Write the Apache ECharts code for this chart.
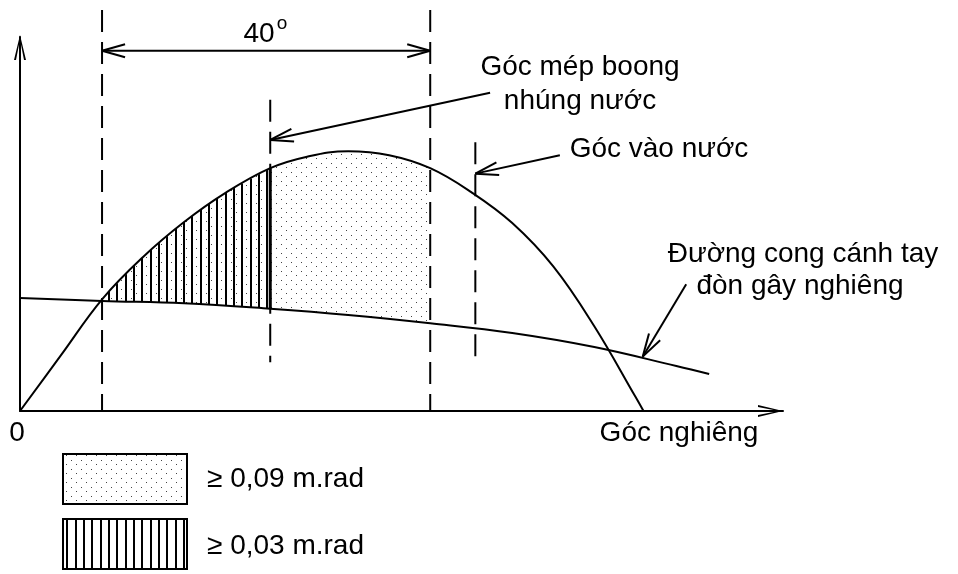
<!DOCTYPE html>
<html><head><meta charset="utf-8">
<script src="https://cdn.jsdelivr.net/npm/echarts@6/dist/echarts.min.js"></script>
<style>html,body{margin:0;padding:0;background:#fff}#c{width:958px;height:574px}</style>
</head><body><div id="c"></div>
<script>
// ---- Data (angle in degrees, lever arm in m) ----
const gzAngle   = [0, 5, 10, 15, 20, 25, 30.5, 35, 40, 45, 50, 55, 60, 65, 70, 75, 76];
const gzValue   = [0, 0.112, 0.224, 0.309, 0.379, 0.437, 0.487, 0.510, 0.521, 0.513, 0.487, 0.439, 0.377, 0.290, 0.170, 0.029, 0];
const heelAngle = [0, 10, 20, 30.5, 40, 50, 60, 70, 80, 84];
const heelValue = [0.2266, 0.2206, 0.216, 0.205, 0.1925, 0.1759, 0.1564, 0.1283, 0.0902, 0.0742];
const dottedRange  = [10, 50];    // area >= 0,09 m.rad
const hatchedRange = [10, 30.5];  // area >= 0,03 m.rad
// vertical guide lines: [angle, from, to]
const guides = [[10, 0, 0.804], [50, 0, 0.804], [30.5, 0.098, 0.624], [55.5, 0.102, 0.539]];
// annotation arrows: [x1, y1, x2(head), y2(head), doubleHeaded]
const arrows = [[10, 0.7225, 50, 0.7225, 1], [57.3, 0.638, 30.5, 0.5435, 0], [65.8, 0.513, 55.5, 0.476, 0], [81.2, 0.254, 75.9, 0.109, 0]];
const spanLabel = '40';
const deckLabel = ['Góc mép boong', 'nhúng nước'];
const floodLabel = 'Góc vào nước';
const heelLabel = ['Đường cong cánh tay', 'đòn gây nghiêng'];
const xAxisLabel = 'Góc nghiêng';
const legendLabels = ['≥ 0,09 m.rad', '≥ 0,03 m.rad'];

const FONT = '"Liberation Sans", Arial, sans-serif';

function makeDots() {
  const c = document.createElement('canvas'); c.width = 10; c.height = 9;
  const g = c.getContext('2d'); g.fillStyle = '#444';
  g.fillRect(1, 1, 1, 1); g.fillRect(6, 5, 1, 1);
  return c;
}
function makeHatch() {
  const c = document.createElement('canvas'); c.width = 25; c.height = 4;
  const g = c.getContext('2d'); g.fillStyle = '#000';
  [0, 8, 16].forEach(x => g.fillRect(x, 0, 2, 4));
  return c;
}
const dotPat = { image: makeDots(), repeat: 'repeat' };
const hatchPat = { image: makeHatch(), repeat: 'repeat' };

const chevron = 'path://M6,0 L12,25 L10,25 L6,4.5 L2,25 L0,25 Z';

function regionPts(api, r) {
  const pts = [];
  gzAngle.forEach((a, i) => { if (a >= r[0] && a <= r[1]) pts.push(api.coord([a, gzValue[i]])); });
  for (let i = heelAngle.length - 1; i >= 0; i--) {
    if (heelAngle[i] >= r[0] && heelAngle[i] <= r[1]) pts.push(api.coord([heelAngle[i], heelValue[i]]));
  }
  return pts;
}

function headLines(p, q, L, W) {
  const dx = q[0] - p[0], dy = q[1] - p[1], len = Math.hypot(dx, dy);
  const ux = dx / len, uy = dy / len, nx = -uy, ny = ux;
  const bx = q[0] - ux * L, by = q[1] - uy * L;
  const st = { stroke: '#000', lineWidth: 2 };
  return [
    { type: 'line', shape: { x1: q[0], y1: q[1], x2: bx + nx * W, y2: by + ny * W }, style: st },
    { type: 'line', shape: { x1: q[0], y1: q[1], x2: bx - nx * W, y2: by - ny * W }, style: st }
  ];
}

const txt = (s, x, y, opt) => Object.assign({
  type: 'text', x: x, y: y, z: 100,
  style: { text: s, fontSize: 28, fontFamily: FONT, fill: '#000', align: 'center', verticalAlign: 'middle' }
}, opt || {});

const option = {
  animation: false,
  grid: { left: 20, right: 175, top: 37, bottom: 163, containLabel: false, outerBoundsMode: 'none' },
  xAxis: {
    type: 'value', min: 0, max: 93,
    axisLine: { show: true, onZero: true, lineStyle: { color: '#000', width: 2 },
      symbol: ['none', chevron], symbolSize: [12, 25], symbolOffset: [0, -12.5] },
    axisTick: { show: false }, axisLabel: { show: false }, splitLine: { show: false }
  },
  yAxis: {
    type: 'value', min: 0, max: 0.75,
    axisLine: { show: true, onZero: true, lineStyle: { color: '#000', width: 2 },
      symbol: ['none', chevron], symbolSize: [12, 25], symbolOffset: [0, -10.5] },
    axisTick: { show: false }, axisLabel: { show: false }, splitLine: { show: false }
  },
  series: [
    {
      type: 'custom', name: 'areas', z: 1, clip: false, silent: true,
      data: [[0, 0]],
      renderItem: function (params, api) {
        const top = api.coord([hatchedRange[1], gzValue[gzAngle.indexOf(hatchedRange[1])]]);
        const bot = api.coord([hatchedRange[1], heelValue[heelAngle.indexOf(hatchedRange[1])]]);
        return { type: 'group', children: [
          { type: 'polygon', shape: { points: regionPts(api, dottedRange) }, style: { fill: dotPat } },
          { type: 'polygon', shape: { points: regionPts(api, hatchedRange) }, style: { fill: hatchPat } },
          { type: 'line', shape: { x1: top[0], y1: top[1], x2: bot[0], y2: bot[1] }, style: { stroke: '#000', lineWidth: 3 } }
        ] };
      }
    },
    {
      type: 'line', name: 'GZ', z: 3, smooth: 0.4, symbol: 'none', silent: true,
      data: gzAngle.map((a, i) => [a, gzValue[i]]),
      lineStyle: { color: '#000', width: 2 }
    },
    {
      type: 'line', name: 'heel', z: 3, smooth: 0.4, symbol: 'none', silent: true,
      data: heelAngle.map((a, i) => [a, heelValue[i]]),
      lineStyle: { color: '#000', width: 2 }
    },
    {
      type: 'custom', name: 'guides', z: 4, clip: false, silent: true,
      data: guides,
      renderItem: function (params, api) {
        const a = api.coord([api.value(0), api.value(2)]);
        const b = api.coord([api.value(0), api.value(1)]);
        return { type: 'line', shape: { x1: a[0], y1: a[1], x2: b[0], y2: b[1] },
          style: { stroke: '#000', lineWidth: 2, lineDash: [22, 10] } };
      }
    },
    {
      type: 'custom', name: 'arrows', z: 5, clip: false, silent: true,
      data: arrows,
      renderItem: function (params, api) {
        const p = api.coord([api.value(0), api.value(1)]);
        const q = api.coord([api.value(2), api.value(3)]);
        let ch = [{ type: 'line', shape: { x1: p[0], y1: p[1], x2: q[0], y2: q[1] }, style: { stroke: '#000', lineWidth: 2 } }];
        ch = ch.concat(headLines(p, q, 23, 6.5));
        if (api.value(4)) ch = ch.concat(headLines(q, p, 23, 6.5));
        return { type: 'group', children: ch };
      }
    }
  ],
  graphic: [
    { type: 'rect', shape: { x: 63, y: 454, width: 124, height: 50 }, style: { fill: dotPat, stroke: '#000', lineWidth: 2 } },
    { type: 'rect', shape: { x: 63, y: 519, width: 124, height: 50 }, style: { fill: hatchPat, stroke: '#000', lineWidth: 2 } },
    txt(legendLabels[0], 207, 479, { style: { text: legendLabels[0], fontSize: 28, fontFamily: FONT, fill: '#000', align: 'left', verticalAlign: 'middle' } }),
    txt(legendLabels[1], 207, 546, { style: { text: legendLabels[1], fontSize: 28, fontFamily: FONT, fill: '#000', align: 'left', verticalAlign: 'middle' } }),
    txt(spanLabel, 259, 34),
    txt('o', 282, 24, { style: { text: 'o', fontSize: 19, fontFamily: FONT, fill: '#000', align: 'center', verticalAlign: 'middle' } }),
    txt(deckLabel[0], 580, 67),
    txt(deckLabel[1], 580, 101),
    txt(floodLabel, 659, 149),
    txt(heelLabel[0], 803, 254),
    txt(heelLabel[1], 800, 286),
    txt(xAxisLabel, 679, 433),
    txt('0', 17, 433)
  ]
};
const chart = echarts.init(document.getElementById('c'), null, { renderer: 'canvas' });
chart.setOption(option);
</script></body></html>
